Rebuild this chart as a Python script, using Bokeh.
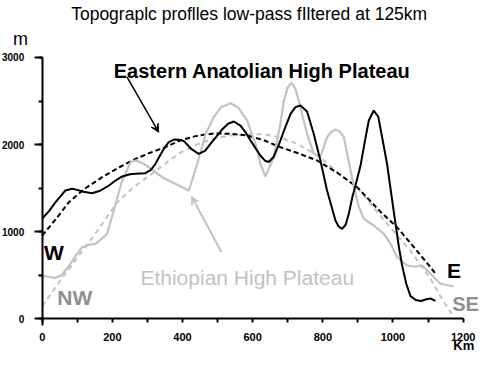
from bokeh.plotting import figure
from bokeh.models import Range1d, SingleIntervalTicker, Label, Arrow, VeeHead, LinearAxis
from bokeh.embed import file_html
from bokeh.resources import INLINE

# ---------------- data ----------------
anatolia_km = [0, 20, 38, 55, 66, 85, 100, 114, 142, 165, 190, 210, 228, 250, 266, 294, 310, 323, 335,
               347, 360, 375, 390, 404, 425, 446, 465, 480, 496, 512, 530, 546, 565, 580, 594, 608, 622,
               635, 646, 660, 679, 693, 708, 722, 736, 755, 774, 793, 812, 822, 836, 845, 855, 865, 874,
               884, 893, 907, 922, 931, 945, 958, 969, 983, 993, 1007, 1017, 1026, 1038, 1050, 1065,
               1080, 1095, 1108, 1121]
anatolia_m = [1150, 1240, 1339, 1420, 1473, 1492, 1480, 1461, 1442, 1470, 1530, 1590, 1634, 1660, 1665,
              1672, 1710, 1780, 1870, 1952, 2025, 2058, 2055, 2040, 1950, 1894, 1930, 2010, 2090, 2170,
              2240, 2265, 2219, 2140, 2047, 1960, 1875, 1815, 1800, 1860, 2047, 2200, 2353, 2430, 2449,
              2380, 2124, 1817, 1473, 1330, 1128, 1060, 1033, 1080, 1205, 1396, 1530, 1750, 2085, 2277,
              2391, 2320, 2085, 1780, 1493, 1094, 820, 612, 400, 260, 215, 205, 225, 232, 205]

ethiopia_km = [-12, 0, 20, 38, 55, 75, 95, 114, 135, 152, 170, 185, 204, 228, 252, 266, 285, 304, 342, 375,
               408, 418, 442, 466, 489, 510, 537, 560, 584, 608, 622, 636, 660, 679, 689, 700, 711, 722,
               731, 755, 774, 793, 812, 825, 836, 848, 860, 879, 893, 903, 917, 945, 974, 993, 1012,
               1040, 1064, 1083, 1107, 1135, 1173]
ethiopia_m = [505, 497, 480, 470, 500, 600, 720, 822, 850, 861, 920, 976, 1243, 1588, 1798, 1817, 1790, 1740,
              1626, 1560, 1492, 1470, 1780, 2124, 2315, 2430, 2475, 2420, 2277, 2009, 1780, 1634, 1855,
              2239, 2506, 2660, 2710, 2640, 2506, 2124, 1894, 1855, 2085, 2150, 2173, 2150, 2085, 1702,
              1435, 1281, 1148, 1071, 976, 861, 707, 612, 600, 612, 517, 402, 371]

anatolia_fit_km = [0, 40, 76, 120, 171, 220, 266, 310, 351, 394, 440, 489, 537, 584, 632, 679, 730, 784,
                   840, 898, 964, 1012, 1060, 1107, 1121]
anatolia_fit_m = [956, 1150, 1339, 1490, 1626, 1740, 1837, 1910, 1970, 2050, 2100, 2128, 2124, 2105,
                  2050, 1970, 1900, 1817, 1680, 1511, 1230, 1050, 820, 592, 517]

ethiopia_fit_km = [0, 50, 100, 150, 214, 260, 313, 360, 399, 440, 490, 537, 585, 632, 680, 727, 793,
                   850, 898, 950, 1012, 1050, 1107, 1135, 1173]
ethiopia_fit_m = [145, 430, 700, 970, 1339, 1510, 1665, 1810, 1920, 2000, 2070, 2104, 2120, 2120, 2080,
                  2009, 1855, 1650, 1511, 1250, 956, 780, 460, 260, 18]

x_ticks_interval = 200
y_ticks_interval = 1000

FONT = "Liberation Sans"
GRAY = "#c2c2c2"
DARKGRAY = "#8f8f8f"

p = figure(width=485, height=365, output_backend="svg", toolbar_location=None,
           x_range=Range1d(-118.9, 1263.7), y_range=Range1d(-536.2, 3654.4),
           x_axis_location=None, y_axis_location=None,
           min_border_left=0, min_border_right=0, min_border_top=0, min_border_bottom=0)
p.grid.visible = False
p.outline_line_color = None
p.background_fill_color = "white"
p.border_fill_color = "white"

# axes, placed at x=0 and y=0
xaxis = LinearAxis(fixed_location=0, bounds=(0, 1200),
                   ticker=SingleIntervalTicker(interval=x_ticks_interval, num_minor_ticks=2))
yaxis = LinearAxis(fixed_location=0, bounds=(-80, 3000),
                   ticker=SingleIntervalTicker(interval=y_ticks_interval, num_minor_ticks=2))
for ax in (xaxis, yaxis):
    ax.axis_line_width = 2
    ax.axis_line_color = "black"
    ax.major_tick_line_width = 2
    ax.minor_tick_line_width = 2
    ax.major_tick_in = 0
    ax.minor_tick_in = 0
    ax.major_label_text_font = FONT
    ax.major_label_text_font_style = "bold"
    ax.major_label_text_color = "black"
xaxis.major_tick_out = 0
xaxis.minor_tick_out = 4
xaxis.major_label_standoff = 10
xaxis.major_label_text_font_size = "11px"
yaxis.major_tick_out = 8
yaxis.minor_tick_out = 4
yaxis.major_label_standoff = 10
yaxis.major_label_text_font_size = "10px"
p.add_layout(xaxis, "below")
p.add_layout(yaxis, "left")

# curves
p.line(ethiopia_fit_km, ethiopia_fit_m, line_color=GRAY, line_width=2, line_dash="5 4")
p.line(anatolia_fit_km, anatolia_fit_m, line_color="black", line_width=2, line_dash="5 3")
p.line(ethiopia_km, ethiopia_m, line_color=GRAY, line_width=2.2)
p.line(anatolia_km, anatolia_m, line_color="black", line_width=2)

# arrows
p.add_layout(Arrow(x_start=242, y_start=2774, x_end=332, y_end=2142, line_color="black", line_width=1.5,
                   end=VeeHead(size=8, fill_color="black", line_color="black")))
p.add_layout(Arrow(x_start=511, y_start=765, x_end=426, y_end=1404, line_color=GRAY, line_width=2,
                   end=VeeHead(size=8, fill_color=GRAY, line_color=GRAY)))

def lab(x, y, t, size, color="black", style="normal", align="left", baseline="alphabetic"):
    p.add_layout(Label(x=x, y=y, text=t, text_font=FONT, text_font_size=size, text_color=color,
                       text_font_style=style, text_align=align, text_baseline=baseline))

lab(590, 3494, "Topograplc proflles low-pass fIltered at 125km", "17.5px", align="center", baseline="middle")
lab(-83, 3218, "m", "18px", align="left", baseline="middle")
lab(1172, -301, "Km", "13px", style="bold", baseline="middle")
lab(204, 2843, "Eastern Anatolian High Plateau", "20px", style="bold")
lab(280, 471, "Ethiopian High Plateau", "21px", color=GRAY)
lab(5, 765, "W", "21px", style="bold")
lab(43, 241, "NW", "21px", color=DARKGRAY, style="bold")
lab(1154, 555, "E", "21px", style="bold")
lab(1169, 172, "SE", "20px", color=DARKGRAY, style="bold")

open("out.html", "w").write(file_html(p, INLINE))
